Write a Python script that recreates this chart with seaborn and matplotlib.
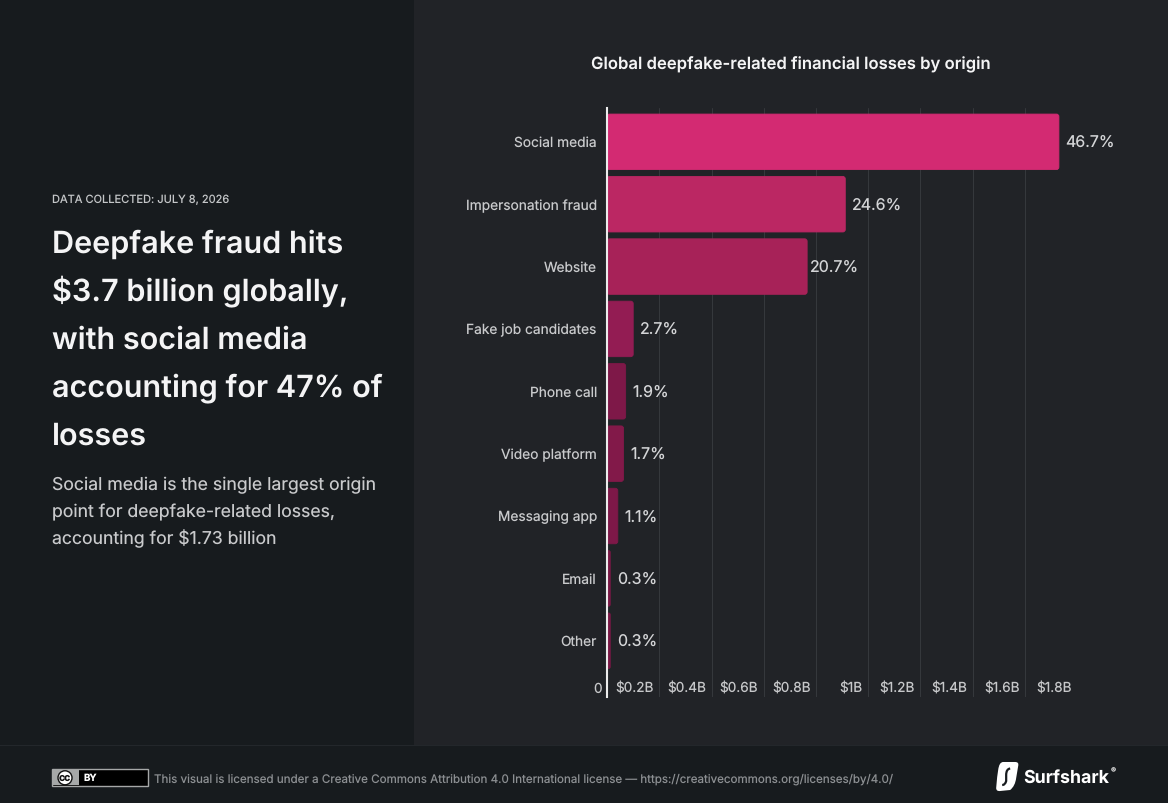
import matplotlib
matplotlib.use("Agg")
import matplotlib.pyplot as plt
import pandas as pd
import seaborn as sns
from matplotlib.patches import Rectangle, FancyBboxPatch, Circle, PathPatch
from matplotlib.path import Path
from matplotlib.transforms import ScaledTranslation

categories = ["Social media", "Impersonation fraud", "Website", "Fake job candidates",
              "Phone call", "Video platform", "Messaging app", "Email", "Other"]
losses_billion = [1.73, 0.912, 0.766, 0.10, 0.071, 0.063, 0.041, 0.012, 0.012]
share_labels = ["46.7%", "24.6%", "20.7%", "2.7%", "1.9%", "1.7%", "1.1%", "0.3%", "0.3%"]
bar_colors = ["#D32A72", "#BB2763", "#A72258", "#931C53", "#7E1848",
              "#821949", "#7E1848", "#7A1845", "#7A1845"]
x_ticks = [0, 0.2, 0.4, 0.6, 0.8, 1.0, 1.2, 1.4, 1.6, 1.8]
x_tick_labels = ["0", "$0.2B", "$0.4B", "$0.6B", "$0.8B", "$1B", "$1.2B", "$1.4B", "$1.6B", "$1.8B"]
headline = ["Deepfake fraud hits", "$3.7 billion globally,", "with social media",
            "accounting for 47% of", "losses"]
subhead = ["Social media is the single largest origin",
           "point for deepfake-related losses,",
           "accounting for $1.73 billion"]

W, H = 1168, 803
DARK, PANEL = "#171B1E", "#212327"
sns.set_theme(style="dark")
plt.rcParams["font.family"] = ["Inter", "DejaVu Sans"]
plt.rcParams["text.hinting"] = "no_hinting"
plt.rcParams["text.hinting_factor"] = 1

fig = plt.figure(figsize=((W + 0.2) / 100, (H + 0.2) / 100), dpi=100, facecolor=DARK)

# Backdrop and page furniture, laid out in pixel coordinates
bg = fig.add_axes([0, 0, 1, 1], zorder=0)
bg.set_xlim(0, W)
bg.set_ylim(H, 0)
bg.axis("off")
bg.add_patch(Rectangle((414, 0), W - 414, 745, fc=PANEL, ec="none"))
bg.add_patch(Rectangle((0, 745), W, 1.2, fc="#23272B", ec="none"))

bg.text(52, 199.5, "DATA COLLECTED: JULY 8, 2026", color="#C4C6C8", fontsize=7.97, va="center")
for i, line in enumerate(headline):
    bg.text(52, 252.5 + 48 * i, line, color="#F4F4F5", fontsize=22, fontweight="semibold", va="baseline")
for i, line in enumerate(subhead):
    bg.text(52, 490 + 27 * i, line, color="#C9CACC", fontsize=12.7, va="baseline")
bg.text(790.5, 64.5, "Global deepfake-related financial losses by origin", color="#F4F4F5",
        fontsize=12, fontweight="semibold", ha="center", va="center")

# Creative Commons badge
bg.add_patch(Rectangle((51.5, 769.5), 96.5, 16.5, fc="#000000", ec="#A6A8A8", lw=1))
bg.add_patch(Rectangle((52, 770), 27, 15.5, fc="#A6A8A8", ec="none"))
bg.add_patch(Circle((65, 777.8), 7, fc="#FFFFFF", ec="#111111", lw=1))
bg.text(65, 778, "cc", color="#111111", fontsize=7.5, fontweight="bold", ha="center", va="center")
bg.text(83, 778.5, "BY", color="#FFFFFF", fontsize=7, fontweight="bold", va="center")
bg.text(154, 779,
        "This visual is licensed under a Creative Commons Attribution 4.0 International license \u2014 "
        "https://creativecommons.org/licenses/by/4.0/",
        color="#8C8F92", fontsize=8.37, va="center")

# Surfshark wordmark and shield
shield = Path(
    [(1003, 762), (1015, 762), (1019, 762), (1018, 766), (1016, 778), (1015, 786), (1010, 790),
     (1000, 791), (996, 791.5), (996, 788), (997, 777), (998, 770), (999, 762), (1003, 762)],
    [Path.MOVETO, Path.LINETO, Path.CURVE3, Path.CURVE3, Path.LINETO, Path.CURVE3, Path.CURVE3,
     Path.LINETO, Path.CURVE3, Path.CURVE3, Path.LINETO, Path.LINETO, Path.CURVE3, Path.CURVE3])
bg.add_patch(PathPatch(shield, fc="#FFFFFF", ec="none"))
stroke = Path([(1010, 768.5), (1006, 769), (1006, 775), (1006, 781), (1005, 785), (1002, 785)],
              [Path.MOVETO, Path.CURVE3, Path.CURVE3, Path.LINETO, Path.CURVE3, Path.CURVE3])
bg.add_patch(PathPatch(stroke, fc="none", ec=DARK, lw=1.6))
bg.text(1023.5, 777.5, "Surfshark", color="#FFFFFF", fontsize=12.8, fontweight="bold", va="center")
bg.text(1111, 771, "\u00ae", color="#D8D8D8", fontsize=5.5, va="center")

# Bar chart: axes span the gridline extent
x0, x1, y_top, y_bot = 607, 1077, 108, 697
ax = fig.add_axes([x0 / W, 1 - y_bot / H, (x1 - x0) / W, (y_bot - y_top) / H], zorder=1)
ax.patch.set_alpha(0)

data = pd.DataFrame({"category": categories, "losses": losses_billion})
sns.barplot(data=data, y="category", x="losses", hue="category", palette=bar_colors,
            order=categories, hue_order=categories, dodge=False, legend=False,
            width=55.5 / 62.35, saturation=1, ax=ax)

band = 62.35
ax.set_xlim(0, 1.8)
ax.set_ylim((y_bot - 142) / band, (y_top - 142) / band)
ax.set_xlabel("")
ax.set_ylabel("")

# Soften bar corners by swapping each rectangle for a rounded one of the same size
px_per_x = (x1 - x0) / 1.8
for bar, color in zip(list(ax.patches), bar_colors):
    width_px = bar.get_width() * px_per_x
    radius = min(2.5, width_px / 2)
    rounded = FancyBboxPatch((bar.get_x(), bar.get_y()), bar.get_width(), bar.get_height(),
                             boxstyle=f"round,pad=0,rounding_size={radius / px_per_x}",
                             mutation_aspect=px_per_x / band,
                             fc=color, ec=color, lw=0.6, zorder=2)
    bar.set_visible(False)
    ax.add_patch(rounded)

for i, (value, label) in enumerate(zip(losses_billion, share_labels)):
    offset = 3 if categories[i] == "Website" else 6.5
    ax.annotate(label, (value, i), xytext=(offset * 0.72, -0.6), textcoords="offset points",
                va="center", ha="left", color="#D4D5D7", fontsize=11.5, zorder=4, annotation_clip=False)

ax.set_xticks(x_ticks, x_tick_labels)
ax.grid(axis="x", color="#35383C", lw=0.75, zorder=0)
ax.grid(axis="y", visible=False)
ax.set_axisbelow(True)
ax.tick_params(axis="x", length=0, pad=-10.7, colors="#C6C7C9", labelsize=9.8)
ax.tick_params(axis="y", length=0, pad=7.4, colors="#C9CACC", labelsize=9.9)

# Tick labels sit just left of their gridlines, inside the plot area
shift = ScaledTranslation(-5.5 / 100, 0, fig.dpi_scale_trans)
for tick in ax.get_xticklabels():
    tick.set_ha("right")
    tick.set_transform(tick.get_transform() + shift)

for side in ["top", "right", "bottom"]:
    ax.spines[side].set_visible(False)
ax.spines["left"].set_color("#ECECEC")
ax.spines["left"].set_linewidth(1.5)
ax.spines["left"].set_zorder(5)

fig.savefig("out.png", dpi=100, facecolor=DARK)
